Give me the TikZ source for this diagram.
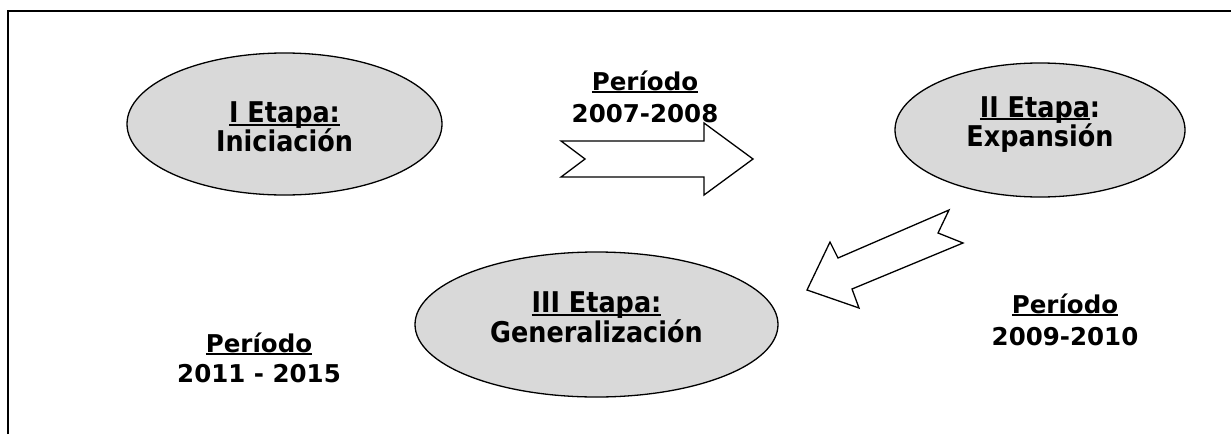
\documentclass[tikz,border=0pt]{standalone}
\usepackage{fontspec}
\setmainfont{DejaVu Sans}
\usetikzlibrary{shapes.geometric}
\newcommand\myul[1]{\setbox0\hbox{#1}\rlap{\rule[-3pt]{\wd0}{2pt}}\box0}
\newcommand\tall[1]{\scalebox{1}[1.12]{#1}}
\tikzset{
  stage/.style={ellipse, draw=black, line width=1.3pt, fill=stagegray, inner sep=0pt},
  blockarrow/.style={draw=black, line width=1.3pt, fill=white, line join=miter},
  etxt/.style={anchor=base, inner sep=0pt, font=\fontsize{25.5}{28}\selectfont\bfseries},
  ptxt/.style={anchor=base, inner sep=0pt, font=\fontsize{24.5}{28}\selectfont\bfseries},
}
\definecolor{stagegray}{HTML}{D9D9D9}
\begin{document}
\begin{tikzpicture}[x=1pt,y=-1pt]
\useasboundingbox (0,0) rectangle (1231,434);
\fill[white] (0,0) rectangle (1231,434);
% frame (only left and top edges visible)
\coordinate (fbl) at (8,434);
\coordinate (ftl) at (8,11);
\coordinate (ftr) at (1231,11);
\draw[line width=1.5pt] (fbl) -- (ftl) -- (ftr);

% stages
\node[stage, minimum width=315pt, minimum height=142pt] (e1) at (284.5,124) {};
\node[stage, minimum width=290pt, minimum height=134pt] (e2) at (1040,130) {};
\node[stage, minimum width=363pt, minimum height=145pt] (e3) at (596.5,324.5) {};

\node[etxt] (e1a) at (284.5,122.5) {\tall{\myul{I Etapa:}}};
\node[etxt] (e1b) at (284.5,151) {\tall{Iniciación}};
\node[etxt] (e2a) at (1040,117) {\tall{\myul{II Etapa}:}};
\node[etxt] (e2b) at (1040,146) {\tall{Expansión}};
\node[etxt] (e3a) at (596.5,312.5) {\tall{\myul{III Etapa:}}};
\node[etxt] (e3b) at (596.5,342) {\tall{Generalización}};

% block arrows
\draw[blockarrow] (561,141) -- (704,141) -- (704,123) -- (753,159) -- (704,195) -- (704,177) -- (561,177) -- (585,159) -- cycle;
\draw[blockarrow] (807,290) -- (830,242) -- (838,258) -- (949,210) -- (938,233) -- (963,243) -- (852,289) -- (859,308) -- cycle;

% periods
\node[ptxt] (p1a) at (645,90) {\myul{Período}};
\node[ptxt] (p1b) at (645,122) {2007-2008};
\node[ptxt] (p2a) at (1065,313) {\myul{Período}};
\node[ptxt] (p2b) at (1065,345) {2009-2010};
\node[ptxt] (p3a) at (259,352) {\myul{Período}};
\node[ptxt] (p3b) at (259,382) {2011 - 2015};
\end{tikzpicture}
\end{document}
